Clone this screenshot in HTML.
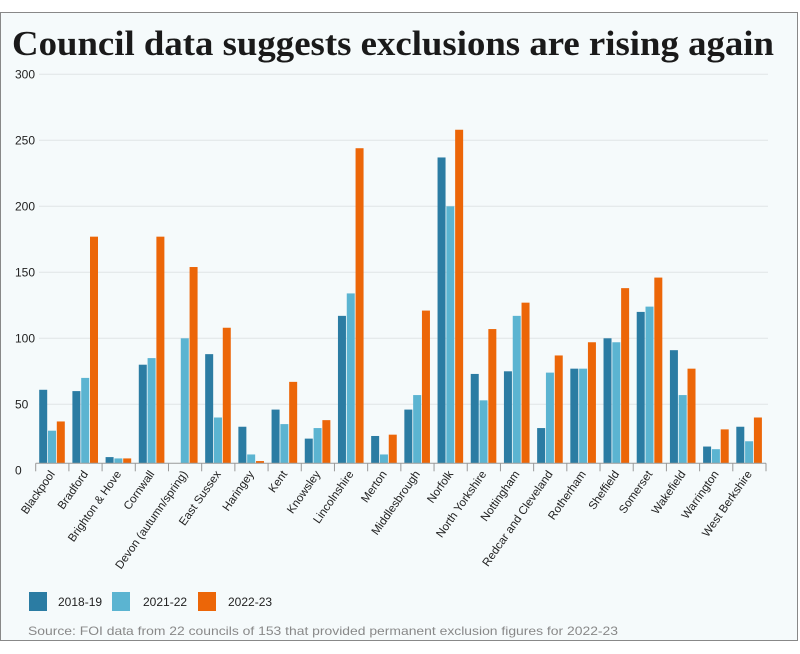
<!DOCTYPE html>
<html><head><meta charset="utf-8"><style>
body{margin:0;background:#fff;}
svg{display:block;font-family:"Liberation Sans",sans-serif;}
</style></head><body>
<svg id="chart" width="800" height="654" viewBox="0 0 800 654">
<rect x="0.5" y="12.5" width="797" height="628" fill="#f5fafb" stroke="#888"/>
<text x="12" y="55" font-family="Liberation Serif,serif" font-weight="bold" font-size="35" fill="#1a1a1a" textLength="762" lengthAdjust="spacingAndGlyphs">Council data suggests exclusions are rising again</text>
<g id="grid"></g><g id="bars"></g><g id="xaxis"></g>
<g>
<rect x="29" y="592" width="18" height="19" fill="#2b7ca3"/>
<text x="58" y="606" font-size="12" fill="#222">2018-19</text>
<rect x="112" y="592" width="18" height="19" fill="#5bb4d1"/>
<text x="143" y="606" font-size="12" fill="#222">2021-22</text>
<rect x="198" y="592" width="18" height="19" fill="#ec6608"/>
<text x="228" y="606" font-size="12" fill="#222">2022-23</text>
</g>
<text x="28" y="635" font-size="12" fill="#888" textLength="590" lengthAdjust="spacingAndGlyphs">Source: FOI data from 22 councils of 153 that provided permanent exclusion figures for 2022-23</text>
</svg>
<script>
const categories=["Blackpool","Bradford","Brighton & Hove","Cornwall","Devon (autumn/spring)","East Sussex","Haringey","Kent","Knowsley","Lincolnshire","Merton","Middlesbrough","Norfolk","North Yorkshire","Nottingham","Redcar and Cleveland","Rotherham","Sheffield","Somerset","Wakefield","Warrington","West Berkshire"];
const s2018=[61,60,10,80,0,88,33,46,24,117,26,46,237,73,75,32,77,100,120,91,18,33];
const s2021=[30,70,9,85,100,40,12,35,32,134,12,57,200,53,117,74,77,97,124,57,16,22];
const s2022=[37,177,9,177,154,108,7,67,38,244,27,121,258,107,127,87,97,138,146,77,31,40];
const yTicks=[0,50,100,150,200,250,300];
const seriesList=[s2018,s2021,s2022];
const seriesNames=["2018-19","2021-22","2022-23"];
const colors=["#2b7ca3","#5bb4d1","#ec6608"];
const NS="http://www.w3.org/2000/svg";
const x0=35.7,x1=766,base=463.3;
const band=(x1-x0)/categories.length;
function y(v){return 470.3-v*(470.3-74.3)/300;}
function xb(i){return x0+i*band;}
const grid=document.getElementById('grid'),bars=document.getElementById('bars'),xa=document.getElementById('xaxis');
yTicks.forEach(t=>{
 if(t>0){const l=document.createElementNS(NS,'line');
 
 
 l.setAttribute('x1',39);l.setAttribute('x2',768);l.setAttribute('y1',y(t));l.setAttribute('y2',y(t));
 l.setAttribute('stroke','#e0e4e6');l.setAttribute('stroke-width','1');grid.appendChild(l);}
 const tx=document.createElementNS(NS,'text');
 
 
 tx.setAttribute('x',15);tx.setAttribute('y',y(t)+4);tx.setAttribute('font-size','12');tx.setAttribute('fill','#222');
 tx.textContent=t;grid.appendChild(tx);
});
categories.forEach((c,i)=>{
 seriesList.forEach((s,k)=>{
  const v=s[i]; if(v<=0) return;
  const r=document.createElementNS(NS,'rect');
  
  
  const top=Math.min(y(v),base-1);
  r.setAttribute('x',xb(i)+3.5+k*8.8);r.setAttribute('width',8);
  r.setAttribute('y',top);r.setAttribute('height',base-top);
  r.setAttribute('fill',colors[k]);bars.appendChild(r);
 });
 const lab=document.createElementNS(NS,'text');
 
 
 const cx=xb(i)+band/2+3;
 lab.setAttribute('transform','translate('+cx+',474) rotate(-55)');
 lab.setAttribute('text-anchor','end');lab.setAttribute('font-size','11.5');lab.setAttribute('fill','#222');
 lab.textContent=c;xa.appendChild(lab);
});
for(let i=0;i<=categories.length;i++){
 const t=document.createElementNS(NS,'line');
 
 
 t.setAttribute('x1',xb(i));t.setAttribute('x2',xb(i));t.setAttribute('y1',base);t.setAttribute('y2',base+8);
 t.setAttribute('stroke','#999');xa.appendChild(t);
}
const ax=document.createElementNS(NS,'line');


ax.setAttribute('x1',x0);ax.setAttribute('x2',x1);ax.setAttribute('y1',base);ax.setAttribute('y2',base);
ax.setAttribute('stroke','#999');xa.appendChild(ax);
</script>
</body></html>
